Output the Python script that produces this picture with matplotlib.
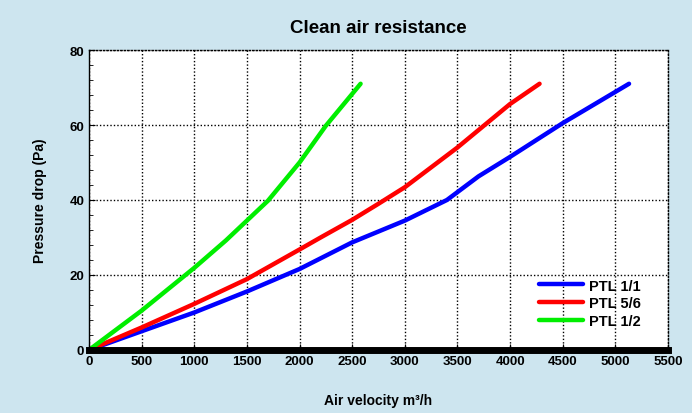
import matplotlib.pyplot as plt
from matplotlib.ticker import MultipleLocator

plt.rcParams['font.family'] = ['Liberation Sans', 'DejaVu Sans']
plt.rcParams['font.weight'] = 'bold'

# Kurven
ptl_11_x = [0, 500, 1000, 1500, 2000, 2500, 3000, 3400, 3700, 4000, 4500, 5130]
ptl_11_y = [0, 5, 10, 15.6, 21.6, 28.7, 34.5, 40, 46.3, 51.5, 60.5, 71]

ptl_56_x = [0, 500, 1000, 1500, 2000, 2200, 2500, 2750, 3000, 3500, 4000, 4280]
ptl_56_y = [0, 6, 12.3, 18.9, 26.8, 30, 34.7, 39, 43.4, 54, 65.6, 71]

ptl_12_x = [0, 500, 1000, 1300, 1500, 1700, 2000, 2250, 2580]
ptl_12_y = [0, 10.5, 21.9, 29.2, 34.5, 39.8, 50, 59.8, 71]

bg = '#cde5ef'
fig = plt.figure(figsize=(6.92, 4.14), dpi=100, facecolor=bg)
ax = fig.add_axes([0.1286, 0.1522, 0.8367, 0.7246])

ax.plot(ptl_11_x, ptl_11_y, color='#0000ff', lw=3.2, label='PTL 1/1', solid_capstyle='round')
ax.plot(ptl_56_x, ptl_56_y, color='#ff0000', lw=3.2, label='PTL 5/6', solid_capstyle='round')
ax.plot(ptl_12_x, ptl_12_y, color='#00ee00', lw=3.2, label='PTL 1/2', solid_capstyle='round')

ax.set_xlim(0, 5500)
ax.set_ylim(0, 80)
ax.xaxis.set_major_locator(MultipleLocator(500))
ax.yaxis.set_major_locator(MultipleLocator(20))
ax.yaxis.set_minor_locator(MultipleLocator(4))
ax.grid(True, which='major', color='black', linestyle=(0, (1, 1.5)), linewidth=1)
ax.tick_params(direction='in', length=4, labelsize=9.5)
ax.tick_params(which='minor', direction='in', length=3)

ax.spines['bottom'].set_linewidth(5)
ax.spines['left'].set_linewidth(1)
for s in ['top', 'right']:
    ax.spines[s].set_linestyle((0, (1, 1.5)))
    ax.spines[s].set_linewidth(1)

ax.set_title('Clean air resistance', fontsize=13.5, fontweight='bold', pad=13)
ax.set_xlabel('Air velocity m³/h', fontsize=10, fontweight='bold', labelpad=19)
ax.set_ylabel('Pressure drop (Pa)', fontsize=10, fontweight='bold', labelpad=16)

ax.legend(loc='lower right', bbox_to_anchor=(0.975, 0.03), frameon=False,
          fontsize=10.5, handlelength=3.0, handletextpad=0.4, labelspacing=0.25)

plt.savefig('out.png', dpi=100, facecolor=bg)
